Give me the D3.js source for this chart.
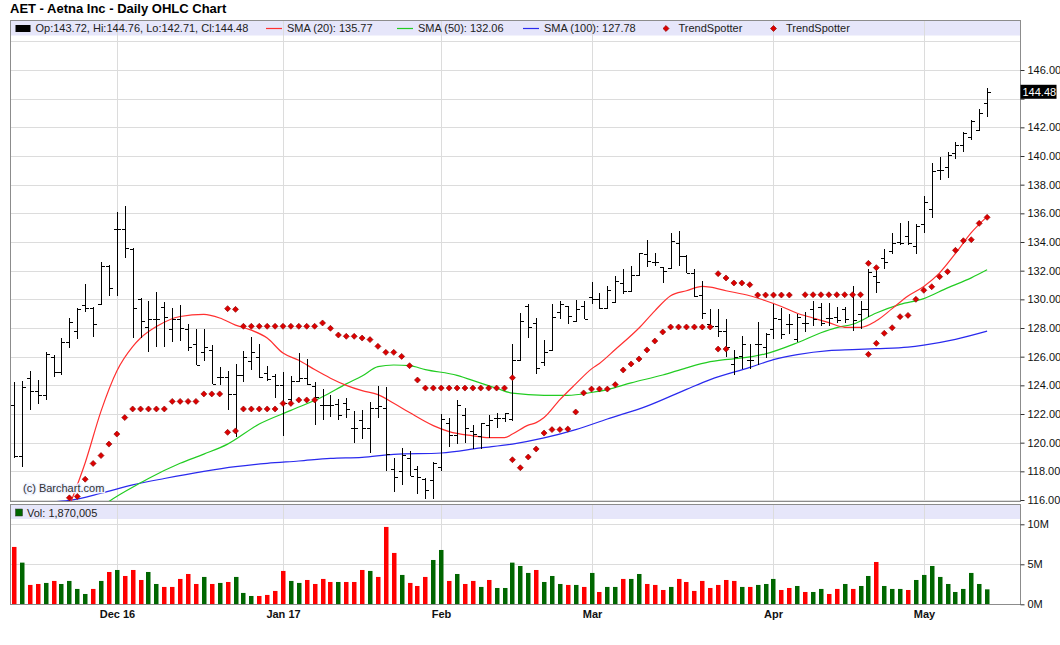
<!DOCTYPE html>
<html>
<head>
<meta charset="utf-8">
<script src="https://cdn.jsdelivr.net/npm/d3@7"></script>
<style>
  body { margin: 0; background: #fff; }
  text { font-family: "Liberation Sans", Arial, sans-serif; }
</style>
</head>
<body>
<svg id="chart" width="1060" height="645"></svg>
<script>
// ---- daily bars, Nov 11 2016 .. May 11 2017 (124 sessions) ----
var opens = [122.6,119.1,124.5,123.6,123.3,126.0,124.9,127.0,127.8,129.6,129.4,129.7,132.3,134.9,134.9,133.5,130.0,128.1,128.6,129.5,
  127.9,128.6,127.9,126.9,126.3,126.5,124.6,124.6,123.4,124.7,125.7,125.95,124.85,124.65,124.0,123.05,124.3,124.5,123.95,122.6,
  122.6,122.7,122.75,121.0,121.55,121.0,122.4,122.45,118.15,118.05,118.9,118.15,117.5,117.4,118.3,121.35,120.55,121.9,120.8,120.5,
  121.25,121.7,121.75,121.65,125.8,129.55,128.35,125.65,126.5,129.15,129.55,128.5,129.55,130.15,130.0,129.4,129.8,131.15,130.6,131.7,
  133.15,132.6,132.25,132.2,133.95,133.05,131.85,130.3,128.25,128.15,127.8,125.5,126.05,125.8,126.9,126.7,127.9,128.6,128.3,127.2,
  128.35,129.3,129.45,128.7,128.75,129.3,130.4,128.95,129.35,131.65,132.85,133.35,134.0,134.45,133.7,135.25,136.3,139.0,139.25,140.2,
  140.8,141.35,141.8,143.72];
var highs = [124.2,124.3,125.0,124.4,126.3,126.1,127.3,128.7,129.4,131.1,129.5,132.6,132.4,136.1,136.5,133.6,130.1,129.9,130.5,129.8,
  129.4,129.6,128.3,127.9,127.9,126.8,125.3,125.0,125.5,126.4,127.35,126.9,125.35,124.8,124.9,124.65,126.25,125.85,124.2,123.75,
  123.3,123.05,123.15,122.2,122.25,122.85,123.95,123.9,118.9,119.6,119.45,118.35,117.55,118.65,122.0,121.7,123.0,122.4,121.2,121.4,
  121.9,122.05,122.1,126.85,129.05,129.65,128.7,127.15,129.65,129.9,129.55,129.95,129.85,131.2,130.45,130.9,131.6,132.1,132.3,133.25,
  134.15,133.25,132.25,134.65,134.8,133.1,132.1,131.25,129.35,129.35,128.65,126.5,127.45,126.9,128.45,127.65,129.65,129.4,129.0,129.0,
  129.15,129.9,129.75,129.75,129.45,129.45,130.9,129.9,132.1,132.2,133.5,134.6,135.35,135.45,135.25,137.2,139.5,139.95,140.25,140.95,
  141.65,142.5,143.3,144.76];
var lows = [118.9,118.3,122.3,122.7,123.0,124.6,124.7,126.6,127.2,129.1,127.4,129.6,130.2,130.2,132.9,127.3,127.3,126.3,126.7,126.7,
  127.0,127.1,126.4,125.4,125.7,124.1,124.0,122.3,120.4,124.2,125.1,124.5,124.3,123.15,120.5,122.6,124.25,124.0,121.2,121.55,
  121.8,121.55,121.75,120.0,120.25,119.25,121.7,118.0,116.55,117.05,117.65,116.45,116.05,116.05,118.0,119.7,119.9,120.0,119.55,119.55,
  120.35,121.05,121.45,121.5,125.8,127.3,124.8,125.35,126.5,128.6,128.25,128.5,128.65,129.65,129.3,129.3,129.75,130.35,130.55,131.7,
  132.25,132.3,131.15,132.1,132.3,131.85,130.15,128.65,128.1,127.35,126.0,124.75,125.15,125.15,125.45,125.9,127.2,127.2,127.55,127.05,
  127.75,128.15,128.15,128.15,128.35,128.35,127.8,127.95,128.8,130.45,132.15,133.15,133.8,133.8,133.15,134.6,135.65,138.35,138.5,139.8,
  140.3,141.1,141.75,142.71];
var closes = [119.1,123.9,123.6,123.3,126.2,124.9,127.0,128.4,129.35,129.4,128.3,132.3,130.8,134.9,133.6,129.4,128.5,128.6,128.6,128.8,
  128.6,128.0,126.7,125.4,126.7,124.1,124.6,123.4,124.7,125.95,126.35,124.55,124.45,124.0,122.8,124.3,124.5,124.1,123.2,122.6,
  122.6,121.95,122.35,121.0,121.0,122.45,122.55,119.2,117.6,119.15,117.65,117.6,116.7,118.55,121.65,120.55,122.6,121.0,120.6,121.35,
  121.6,121.7,122.05,125.8,128.5,128.1,125.2,126.3,128.75,129.65,128.85,129.35,128.65,130.05,129.4,130.65,131.25,130.6,131.7,133.25,
  132.7,132.6,131.95,134.1,133.05,131.85,130.25,129.05,128.15,127.8,126.7,126.0,126.9,125.8,126.9,127.55,128.7,127.6,128.3,128.8,
  128.35,128.6,128.35,128.7,128.55,128.6,128.55,129.3,131.9,131.2,132.6,133.9,133.95,133.95,135.15,136.8,138.95,139.05,140.1,140.8,
  141.6,142.45,143.0,144.48];

// volume in millions, and up (1) / down (0) day colouring
var volumes = [7.17,5.21,2.42,2.54,2.67,2.92,2.54,2.92,1.92,1.29,1.92,2.92,4.04,4.29,3.54,4.29,3.04,4.04,2.54,2.17,
  2.17,3.17,3.79,2.54,3.42,2.54,2.67,2.79,3.42,1.42,1.04,1.04,1.17,1.67,4.17,2.92,2.67,3.04,2.54,3.17,
  2.79,2.79,2.79,2.79,4.29,4.17,3.42,9.67,6.42,3.67,2.67,2.29,3.42,5.54,6.79,2.92,3.79,2.54,2.92,2.17,
  3.04,2.04,2.04,5.21,4.79,3.92,4.29,2.79,3.54,2.54,2.42,2.42,2.17,3.92,1.54,2.17,2.17,3.17,3.17,3.79,
  2.54,2.42,1.79,2.17,3.17,2.79,1.67,2.92,2.04,2.42,3.04,2.92,2.17,2.17,2.42,2.54,3.17,1.79,2.04,2.29,
  1.54,1.54,1.92,1.29,1.92,2.54,1.92,2.29,3.54,5.29,2.29,1.92,1.92,1.79,3.04,3.67,4.79,3.42,2.54,1.54,
  1.92,3.92,2.54,1.87];
var volUp = [0,1,0,0,1,0,1,1,1,1,0,1,0,1,0,0,0,1,1,0,
  0,0,0,0,1,0,1,0,1,1,1,0,0,0,0,1,1,0,0,0,
  0,1,0,0,0,1,0,0,0,1,0,0,0,1,1,0,1,0,0,1,
  0,1,1,1,1,1,0,1,1,1,0,1,0,1,0,1,1,0,1,1,
  0,0,0,1,0,0,0,0,0,0,0,0,1,0,1,1,1,0,0,1,
  0,1,1,0,0,1,0,1,1,0,1,1,1,0,1,1,1,1,1,1,
  1,1,1,1];

// moving averages: [bar index, value]
var sma20 = [[7,115.6],[9,118.6],[11,122.2],[13,125.0],[15,126.7],[16,127.3],[18,128.1],[21,128.8],[24,128.95],[26,128.7],
  [28,128.2],[30,127.85],[32,127.3],[34,126.25],[36,125.75],[38,125.1],[40,124.5],[42,124.0],[44,123.63],[46,123.35],
  [48,122.75],[50,122.1],[53,121.19],[55,120.77],[58,120.48],[60,120.35],[62,120.35],[63,120.6],[65,121.22],[66,121.4],
  [67,121.75],[69,123.0],[71,124.1],[73,125.15],[74,125.53],[76,126.5],[79,128.0],[81,129.2],[83,130.25],[85,130.6],
  [87,130.9],[88,130.85],[90,130.6],[93,130.25],[95,129.9],[97,129.5],[99,129.03],[101,128.7],[103,128.37],[105,128.05],
  [107,128.05],[109,128.5],[111,129.35],[113,130.23],[115,130.9],[117,131.85],[119,133.2],[121,134.65],[123,135.77]];
var sma50 = [[11,115.5],[12,115.9],[16,117.2],[17,117.5],[21,118.56],[24,119.2],[27,119.9],[31,121.3],[35,122.25],[39,123.2],
  [42,124.1],[44,124.65],[46,125.3],[48,125.42],[50,125.37],[52,125.1],[56,124.7],[59,124.15],[61,123.8],[63,123.45],
  [67,123.3],[70,123.3],[73,123.5],[75,123.7],[78,124.17],[82,124.72],[85,125.22],[88,125.65],[93,125.98],[95,126.2],
  [99,126.97],[102,127.67],[104,128.03],[106,128.26],[109,129.05],[112,129.65],[115,130.05],[118,130.8],[121,131.5],[123,132.06]];
var sma100 = [[0,115.6],[3,115.8],[7,115.97],[11,116.47],[15,117.05],[19,117.5],[24,118.0],[28,118.33],[32,118.56],[36,118.72],
  [40,118.9],[44,118.98],[48,119.19],[54,119.28],[59,119.63],[63,119.9],[67,120.33],[71,120.91],[75,121.65],[80,122.55],
  [85,123.72],[88,124.4],[93,125.25],[96,125.79],[99,126.14],[103,126.42],[106,126.49],[109,126.56],[113,126.67],[115,126.81],
  [119,127.21],[123,127.78]];

// TrendSpotter markers: [bar index, value]
var trendBelow = [[7,116.15],[8,116.25],[9,117.45],[10,118.55],[11,119.1],[12,119.9],[13,120.6],[14,121.75],[15,122.35],[16,122.35],
  [17,122.35],[18,122.35],[19,122.35],[20,122.88],[21,122.88],[22,122.88],[23,122.88],[24,123.4],[25,123.4],[26,123.4],
  [27,120.72],[28,120.82],[29,122.35],[30,122.35],[31,122.35],[32,122.35],[33,122.35],[34,122.74],[35,122.74],[36,122.98],
  [37,122.98],[38,122.98],[63,118.81],[64,118.25],[65,119.0],[66,119.56],[67,120.67],[68,120.91],[69,120.91],[70,120.95],
  [71,122.14],[72,123.47],[73,123.74],[74,123.74],[75,123.74],[76,124.05],[77,125.07],[78,125.49],[79,125.84],[80,126.47],
  [81,127.09],[82,127.72],[83,128.07],[84,128.07],[85,128.07],[86,128.07],[87,128.07],[88,128.07],[89,126.53],[90,126.53],
  [108,126.16],[109,126.93],[110,127.63],[111,128.02],[112,128.79],[113,128.88],[114,130.0],[115,130.63],[116,130.88],[117,131.58],
  [118,131.93],[119,133.42],[120,134.09],[121,134.16],[122,135.3],[123,135.72]];
var trendAbove = [[27,129.35],[28,129.3],[29,128.12],[30,128.12],[31,128.12],[32,128.12],[33,128.12],[34,128.12],[35,128.12],[36,128.12],
  [37,128.12],[38,128.12],[39,128.35],[40,127.98],[41,127.51],[42,127.42],[43,127.42],[44,127.3],[45,127.19],[46,126.72],
  [47,126.3],[48,126.3],[49,126.02],[50,125.37],[51,124.37],[52,123.81],[53,123.81],[54,123.81],[55,123.81],[56,123.81],
  [57,123.81],[58,123.81],[59,123.81],[60,123.81],[61,123.81],[62,123.81],[63,124.53],
  [89,131.79],[90,131.49],[91,131.14],[92,131.14],[93,131.02],[94,130.3],[95,130.3],[96,130.3],[97,130.3],[98,130.3],
  [100,130.32],[101,130.32],[102,130.32],[103,130.32],[104,130.32],[105,130.32],[106,130.32],[107,130.32],[108,132.51],[109,132.21]];

// axis ticks
var monthIdx = [13, 34, 54, 73, 96, 115];
var monthLabels = ["Dec 16", "Jan 17", "Feb", "Mar", "Apr", "May"];
var priceGrid = [116,118,120,122,124,126,128,130,132,134,136,138,140,142,144,146,148];
var priceTicks = [116,118,120,122,124,126,128,130,132,134,136,138,140,142,144,146];
var volTicks = [0, 5, 10];

// ---- layout ----
var svg = d3.select("#chart");
var L = 10.5, R = 1020.5;
var pTop = 20.5, pBand = 35.5, pBot = 501.5;
var vTop = 504.5, vBand = 519, vBot = 604.5;
var gridColor = "#dcdcdc", frameColor = "#8c8c8c", bandColor = "#e6e6fa";

var x = d3.scaleLinear().domain([0, 123]).range([14.0, 987.1]);
var y = d3.scaleLinear().domain([116, 146]).range([500, 70]);
var yv = d3.scaleLinear().domain([0, 10]).range([604.3, 524.3]);
function px(i) { return Math.round(x(i)) + 0.5; }

svg.append("rect").attr("width", 1060).attr("height", 645).attr("fill", "#fff");

svg.append("text").attr("x", 10).attr("y", 13)
  .style("font-size", "13px").style("font-weight", "bold").attr("fill", "#000")
  .text("AET - Aetna Inc - Daily OHLC Chart");

// legend bands
svg.append("rect").attr("x", L).attr("y", pTop).attr("width", R - L).attr("height", pBand - pTop).attr("fill", bandColor);
svg.append("rect").attr("x", L).attr("y", vTop).attr("width", R - L).attr("height", vBand - vTop).attr("fill", bandColor);

// gridlines
svg.append("g").selectAll("line").data(priceGrid).enter().append("line")
  .attr("x1", L).attr("x2", R)
  .attr("y1", function (d) { return Math.round(y(d)) + 0.5; })
  .attr("y2", function (d) { return Math.round(y(d)) + 0.5; })
  .attr("stroke", gridColor);
svg.append("g").selectAll("line").data([5, 10]).enter().append("line")
  .attr("x1", L).attr("x2", R)
  .attr("y1", function (d) { return Math.round(yv(d)) + 0.5; })
  .attr("y2", function (d) { return Math.round(yv(d)) + 0.5; })
  .attr("stroke", gridColor);
var vg = svg.append("g");
monthIdx.forEach(function (m) {
  vg.append("line").attr("x1", px(m)).attr("x2", px(m)).attr("y1", pTop).attr("y2", pBot).attr("stroke", gridColor);
  vg.append("line").attr("x1", px(m)).attr("x2", px(m)).attr("y1", vTop).attr("y2", vBot).attr("stroke", gridColor);
});

// clip for the price panel
svg.append("defs").append("clipPath").attr("id", "priceClip")
  .append("rect").attr("x", L).attr("y", pBand).attr("width", R - L).attr("height", pBot - pBand);
var plot = svg.append("g").attr("clip-path", "url(#priceClip)");

// moving averages
var line = d3.line()
  .x(function (d) { return x(d[0]); })
  .y(function (d) { return y(d[1]); })
  .curve(d3.curveMonotoneX);
[[sma100, "#2a2aee"], [sma50, "#22cc22"], [sma20, "#ff3030"]].forEach(function (s) {
  plot.append("path").datum(s[0]).attr("d", line)
    .attr("fill", "none").attr("stroke", s[1]).attr("stroke-width", 1.2);
});

// OHLC bars
var bars = plot.append("g").attr("stroke", "#000").attr("stroke-width", 1).attr("shape-rendering", "crispEdges");
closes.forEach(function (c, i) {
  var cx = px(i);
  bars.append("line").attr("x1", cx).attr("x2", cx).attr("y1", y(highs[i])).attr("y2", y(lows[i]));
  bars.append("line").attr("x1", cx - 3.5).attr("x2", cx).attr("y1", Math.round(y(opens[i])) + 0.5).attr("y2", Math.round(y(opens[i])) + 0.5);
  bars.append("line").attr("x1", cx).attr("x2", cx + 3.5).attr("y1", Math.round(y(c)) + 0.5).attr("y2", Math.round(y(c)) + 0.5);
});

// TrendSpotter diamonds
var diamond = d3.symbol().type(d3.symbolSquare).size(18);
[trendBelow, trendAbove].forEach(function (set) {
  plot.append("g").selectAll("path").data(set).enter().append("path")
    .attr("d", diamond)
    .attr("transform", function (d) { return "translate(" + x(d[0]) + "," + y(d[1]) + ") rotate(45)"; })
    .attr("fill", "#dd0000").attr("stroke", "#8a0000").attr("stroke-width", 0.6);
});

// volume bars
svg.append("g").selectAll("rect").data(volumes).enter().append("rect")
  .attr("x", function (d, i) { return Math.round(x(i)) - 2; })
  .attr("width", 4.5)
  .attr("y", function (d) { return yv(d); })
  .attr("height", function (d) { return yv(0) - yv(d); })
  .attr("fill", function (d, i) { return volUp[i] ? "#006600" : "#ff0000"; });

// frames
svg.append("rect").attr("x", L).attr("y", pTop).attr("width", R - L).attr("height", pBot - pTop)
  .attr("fill", "none").attr("stroke", frameColor);
svg.append("rect").attr("x", L).attr("y", vTop).attr("width", R - L).attr("height", vBot - vTop)
  .attr("fill", "none").attr("stroke", frameColor);

// right axes
var lastClose = closes[closes.length - 1];
var lastY = y(lastClose);
var priceAxis = d3.axisRight(y).tickValues(priceTicks).tickFormat(d3.format(".2f")).tickSize(4).tickPadding(3);
var pa = svg.append("g").attr("transform", "translate(" + R + ",0)").call(priceAxis);
pa.select(".domain").remove();
pa.selectAll("line").attr("stroke", "#333");
pa.selectAll("text").style("font-size", "11px").attr("fill", "#111").style("font-family", "Liberation Sans, Arial, sans-serif");
// the last-price box covers a tick label that sits too close to it
pa.selectAll(".tick").filter(function (d) { return Math.abs(y(d) - lastY) < 12; }).select("text").remove();

var volAxis = d3.axisRight(yv).tickValues(volTicks).tickFormat(function (d) { return d + "M"; }).tickSize(4).tickPadding(3);
var va = svg.append("g").attr("transform", "translate(" + R + ",0)").call(volAxis);
va.select(".domain").remove();
va.selectAll("line").attr("stroke", "#333");
va.selectAll("text").style("font-size", "11px").attr("fill", "#111").style("font-family", "Liberation Sans, Arial, sans-serif");

// last price marker
svg.append("rect").attr("x", R).attr("y", lastY - 7).attr("width", 36).attr("height", 14).attr("fill", "#000");
svg.append("text").attr("x", R + 2).attr("y", lastY + 4).style("font-size", "11px").attr("fill", "#fff")
  .text(d3.format(".2f")(lastClose));

// month labels
svg.append("g").selectAll("text").data(monthIdx).enter().append("text")
  .attr("x", function (d) { return px(d); }).attr("y", 618)
  .attr("text-anchor", "middle").style("font-size", "11px").style("font-weight", "bold").attr("fill", "#111")
  .text(function (d, i) { return monthLabels[i]; });

// legend row (price panel)
var lg = svg.append("g").style("font-size", "11px").attr("fill", "#222");
var n = closes.length - 1, f2 = d3.format(".2f");
lg.append("rect").attr("x", 15.5).attr("y", 25).attr("width", 15).attr("height", 7).attr("fill", "#000");
lg.append("text").attr("x", 35.5).attr("y", 32)
  .text("Op:" + f2(opens[n]) + ", Hi:" + f2(highs[n]) + ", Lo:" + f2(lows[n]) + ", Cl:" + f2(closes[n]));
var smaItems = [["#ff3030", 266, "SMA (20): 135.77"], ["#22cc22", 397, "SMA (50): 132.06"], ["#2a2aee", 523, "SMA (100): 127.78"]];
smaItems.forEach(function (s) {
  lg.append("line").attr("x1", s[1]).attr("x2", s[1] + 16).attr("y1", 28.5).attr("y2", 28.5).attr("stroke", s[0]).attr("stroke-width", 1.2);
  lg.append("text").attr("x", s[1] + 21).attr("y", 32).text(s[2]);
});
[666, 773.5].forEach(function (dx) {
  lg.append("path").attr("d", diamond).attr("transform", "translate(" + dx + ",28.5) rotate(45)")
    .attr("fill", "#dd0000").attr("stroke", "#8a0000").attr("stroke-width", 0.6);
  lg.append("text").attr("x", dx + 12.5).attr("y", 32).text("TrendSpotter");
});

// legend row (volume panel)
svg.append("rect").attr("x", 15.5).attr("y", 509).attr("width", 7).attr("height", 7).attr("fill", "#006600").attr("stroke", "#333").attr("stroke-width", 0.5);
svg.append("text").attr("x", 27).attr("y", 516.5).style("font-size", "11px").attr("fill", "#222")
  .text("Vol: " + d3.format(",")(1870005));

// watermark
svg.append("text").attr("x", 23).attr("y", 492).style("font-size", "11px")
  .attr("fill", "#333").attr("stroke", "#eef2ff").attr("stroke-width", 2.5).style("paint-order", "stroke")
  .text("(c) Barchart.com");
</script>
</body>
</html>
